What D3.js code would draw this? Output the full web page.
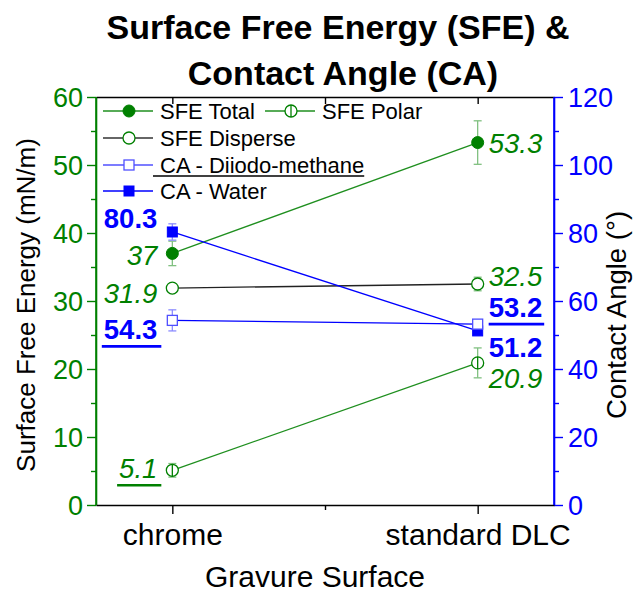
<!DOCTYPE html>
<html>
<head>
<meta charset="utf-8">
<script src="https://cdn.jsdelivr.net/npm/d3@7"></script>
<style>
  html, body { margin: 0; padding: 0; background: #fff; }
  svg { display: block; font-family: "Liberation Sans", Arial, sans-serif; }
</style>
</head>
<body>
<svg id="chart" width="642" height="593"></svg>
<script>
// ---------- data ----------
const categories = ["chrome", "standard DLC"];
const sfeTotal = [37, 53.3];
const sfeTotalErr = [1.8, 3.2];
const sfeDisperse = [31.9, 32.5];
const sfeDisperseErr = [0.4, 1.0];
const sfePolar = [5.1, 20.9];
const sfePolarErr = [1.0, 2.2];
const caDiiodo = [54.3, 53.2];
const caDiiodoErr = [3.1, 1.0];
const caWater = [80.3, 51.2];
const caWaterErr = [2.4, 0.8];
const leftTicks = [0, 10, 20, 30, 40, 50, 60];
const leftMinor = [5, 15, 25, 35, 45, 55];
const rightTicks = [0, 20, 40, 60, 80, 100, 120];
const rightMinor = [10, 30, 50, 70, 90, 110];
const xPositions = [1, 2];
const xMinor = [1.5];

// ---------- layout ----------
const W = 642, H = 593;
const L = 96, R = 554, T = 97, B = 505;
const GREEN = "#008000", GREEN_LINE = "#1f8f1f", GREEN_ERR = "#80c080";
const BLUE = "#0000ff", BLUE_ERR = "#8c8cff", OPEN_BLUE = "#5050ff";

const svg = d3.select("#chart");
const x = d3.scaleLinear().domain([0.75, 2.25]).range([L, R]);
const yL = d3.scaleLinear().domain([0, 60]).range([B, T]);
const yR = d3.scaleLinear().domain([0, 120]).range([B, T]);

// ---------- title ----------
svg.append("text").attr("x", 338).attr("y", 39).attr("text-anchor", "middle")
  .attr("font-size", 34).attr("font-weight", "bold").text("Surface Free Energy (SFE) &");
svg.append("text").attr("x", 343).attr("y", 85).attr("text-anchor", "middle")
  .attr("font-size", 34).attr("font-weight", "bold").text("Contact Angle (CA)");

// ---------- axes ----------
function styleAxis(g, color, fs) {
  g.selectAll("path.domain").attr("stroke", color).attr("stroke-width", 1.6);
  g.selectAll(".tick line").attr("stroke", color).attr("stroke-width", 1.4);
  g.selectAll(".tick text").attr("fill", color).attr("font-size", fs)
    .attr("font-family", "Liberation Sans, Arial, sans-serif");
}
// left
const gL = svg.append("g").attr("transform", `translate(${L},0)`)
  .call(d3.axisLeft(yL).tickValues(leftTicks).tickSize(9).tickPadding(4).tickSizeOuter(0));
styleAxis(gL, GREEN, 27);
gL.selectAll(".tick text").attr("dy", "0.36em");
svg.append("g").attr("transform", `translate(${L},0)`)
  .call(d3.axisLeft(yL).tickValues(leftMinor).tickSize(5).tickFormat("").tickSizeOuter(0))
  .call(g => { g.select("path.domain").remove(); styleAxis(g, GREEN, 0); });
// right
const gR = svg.append("g").attr("transform", `translate(${R},0)`)
  .call(d3.axisRight(yR).tickValues(rightTicks).tickSize(9).tickPadding(5).tickSizeOuter(0));
styleAxis(gR, BLUE, 27);
gR.selectAll(".tick text").attr("dy", "0.36em");
svg.append("g").attr("transform", `translate(${R},0)`)
  .call(d3.axisRight(yR).tickValues(rightMinor).tickSize(5).tickFormat("").tickSizeOuter(0))
  .call(g => { g.select("path.domain").remove(); styleAxis(g, BLUE, 0); });
// bottom
const gB = svg.append("g").attr("transform", `translate(0,${B})`)
  .call(d3.axisBottom(x).tickValues(xPositions).tickSize(9).tickPadding(10).tickSizeOuter(0)
    .tickFormat((d, i) => categories[i]));
styleAxis(gB, "#000", 30);
gB.selectAll(".tick text").attr("dy", "0.71em");
svg.append("g").attr("transform", `translate(0,${B})`)
  .call(d3.axisBottom(x).tickValues(xMinor).tickSize(5).tickFormat("").tickSizeOuter(0))
  .call(g => { g.select("path.domain").remove(); styleAxis(g, "#000", 0); });
// top
const gT = svg.append("g").attr("transform", `translate(0,${T})`)
  .call(d3.axisBottom(x).tickValues(xPositions.concat(xMinor)).tickSize(7).tickFormat("").tickSizeOuter(0));
styleAxis(gT, "#000", 0);
// redraw left/right domain on top of black frames
svg.append("line").attr("x1", L).attr("x2", L).attr("y1", T).attr("y2", B).attr("stroke", GREEN).attr("stroke-width", 1.6);
svg.append("line").attr("x1", R).attr("x2", R).attr("y1", T).attr("y2", B).attr("stroke", BLUE).attr("stroke-width", 1.6);

// axis titles
svg.append("text").attr("transform", "translate(35,305) rotate(-90)").attr("text-anchor", "middle")
  .attr("font-size", 26).text("Surface Free Energy (mN/m)");
svg.append("text").attr("transform", "translate(626,315) rotate(-90)").attr("text-anchor", "middle")
  .attr("font-size", 27.5).text("Contact Angle (°)");
svg.append("text").attr("x", 315).attr("y", 587).attr("text-anchor", "middle")
  .attr("font-size", 30).text("Gravure Surface");

// ---------- markers ----------
function marker(g, type, cx, cy, color) {
  if (type === "circleFilled") {
    g.append("circle").attr("cx", cx).attr("cy", cy).attr("r", 6).attr("fill", color).attr("stroke", color);
  } else if (type === "circleOpen") {
    g.append("circle").attr("cx", cx).attr("cy", cy).attr("r", 6).attr("fill", "#fff").attr("stroke", color).attr("stroke-width", 1.3);
  } else if (type === "circleBar") {
    g.append("circle").attr("cx", cx).attr("cy", cy).attr("r", 6).attr("fill", "#fff").attr("stroke", color).attr("stroke-width", 1.3);
    g.append("line").attr("x1", cx).attr("x2", cx).attr("y1", cy - 6).attr("y2", cy + 6).attr("stroke", color).attr("stroke-width", 1.3);
  } else if (type === "squareOpen") {
    g.append("rect").attr("x", cx - 5).attr("y", cy - 5).attr("width", 10).attr("height", 10)
      .attr("fill", "#fff").attr("stroke", color).attr("stroke-width", 1.3);
  } else if (type === "squareFilled") {
    g.append("rect").attr("x", cx - 5).attr("y", cy - 5).attr("width", 10).attr("height", 10)
      .attr("fill", color).attr("stroke", color).attr("stroke-width", 1);
  }
}

const series = [
  { name: "SFE Polar", vals: sfePolar, err: sfePolarErr, y: yL, line: GREEN_LINE, mk: "circleBar", mc: GREEN, ec: GREEN_ERR },
  { name: "SFE Disperse", vals: sfeDisperse, err: sfeDisperseErr, y: yL, line: "#222", mk: "circleOpen", mc: GREEN, ec: GREEN_ERR },
  { name: "SFE Total", vals: sfeTotal, err: sfeTotalErr, y: yL, line: GREEN_LINE, mk: "circleFilled", mc: GREEN, ec: GREEN_ERR },
  { name: "CA - Water", vals: caWater, err: caWaterErr, y: yR, line: BLUE, mk: "squareFilled", mc: BLUE, ec: BLUE_ERR },
  { name: "CA - Diiodo-methane", vals: caDiiodo, err: caDiiodoErr, y: yR, line: BLUE, mk: "squareOpen", mc: OPEN_BLUE, ec: BLUE_ERR }
];

const plot = svg.append("g");
const lineGen = (ys) => d3.line().x((d, i) => x(xPositions[i])).y(d => ys(d));
// lines
series.forEach(s => {
  plot.append("path").datum(s.vals).attr("d", lineGen(s.y)).attr("fill", "none")
    .attr("stroke", s.line).attr("stroke-width", 1.3);
});
// error bars + markers
series.forEach(s => {
  const g = plot.append("g");
  s.vals.forEach((v, i) => {
    const cx = x(xPositions[i]);
    const y1 = s.y(v + s.err[i]), y2 = s.y(v - s.err[i]);
    g.append("line").attr("x1", cx).attr("x2", cx).attr("y1", y1).attr("y2", y2).attr("stroke", s.ec).attr("stroke-width", 1.3);
    [y1, y2].forEach(yy => g.append("line").attr("x1", cx - 4).attr("x2", cx + 4).attr("y1", yy).attr("y2", yy)
      .attr("stroke", s.ec).attr("stroke-width", 1.3));
  });
  s.vals.forEach((v, i) => marker(g, s.mk, x(xPositions[i]), s.y(v), s.mc));
});

// ---------- data labels ----------
const labelSpec = [
  { vals: sfeTotal, y: yL, style: "it", dy: [12, 10], ul: [false, false] },
  { vals: sfeDisperse, y: yL, style: "it", dy: [15, 1.5], ul: [false, false] },
  { vals: sfePolar, y: yL, style: "it", dy: [8, 25], ul: [true, false] },
  { vals: caWater, y: yR, style: "bold", dy: [-4, 26], ul: [false, false] },
  { vals: caDiiodo, y: yR, style: "bold", dy: [19, -7], ul: [true, true] }
];
labelSpec.forEach(s => {
  s.vals.forEach((v, i) => {
    const left = i === 0;
    const tx = left ? x(xPositions[i]) - 15 : x(xPositions[i]) + 11;
    const ty = s.y(v) + s.dy[i];
    const t = svg.append("text").attr("x", tx).attr("y", ty)
      .attr("text-anchor", left ? "end" : "start")
      .attr("font-size", 27.5)
      .attr("fill", s.style === "it" ? GREEN : BLUE)
      .attr("font-style", s.style === "it" ? "italic" : "normal")
      .attr("font-weight", s.style === "bold" ? "bold" : "normal")
      .text(String(v));
    if (s.ul[i]) {
      const w = t.node().getComputedTextLength();
      const x0 = left ? tx - w - 2 : tx;
      const x1 = left ? tx + 4 : tx + w + 2;
      svg.append("line").attr("x1", x0).attr("x2", x1).attr("y1", ty + 7).attr("y2", ty + 7)
        .attr("stroke", s.style === "it" ? GREEN : BLUE).attr("stroke-width", 2.6);
    }
  });
});

// ---------- legend ----------
const legendItems = [
  { label: "SFE Total", line: GREEN_LINE, mk: "circleFilled", mc: GREEN, lx: 103, cy: 111 },
  { label: "SFE Polar", line: GREEN_LINE, mk: "circleBar", mc: GREEN, lx: 265, cy: 111 },
  { label: "SFE Disperse", line: "#333", mk: "circleOpen", mc: GREEN, lx: 103, cy: 138 },
  { label: "CA - Diiodo-methane", line: OPEN_BLUE, mk: "squareOpen", mc: OPEN_BLUE, lx: 103, cy: 165, ul: true },
  { label: "CA - Water", line: BLUE, mk: "squareFilled", mc: BLUE, lx: 103, cy: 191 }
];
const lg = svg.append("g");
legendItems.forEach(it => {
  lg.append("line").attr("x1", it.lx).attr("x2", it.lx + 50).attr("y1", it.cy).attr("y2", it.cy)
    .attr("stroke", it.line).attr("stroke-width", 1.3);
  marker(lg, it.mk, it.lx + 26, it.cy, it.mc);
  const t = lg.append("text").attr("x", it.lx + 57).attr("y", it.cy + 7.5).attr("font-size", 22).text(it.label);
  if (it.ul) {
    const w = t.node().getComputedTextLength();
    lg.append("line").attr("x1", it.lx + 50).attr("x2", it.lx + 57 + w).attr("y1", it.cy + 11).attr("y2", it.cy + 11)
      .attr("stroke", "#000").attr("stroke-width", 1.3);
  }
});
</script>
</body>
</html>
